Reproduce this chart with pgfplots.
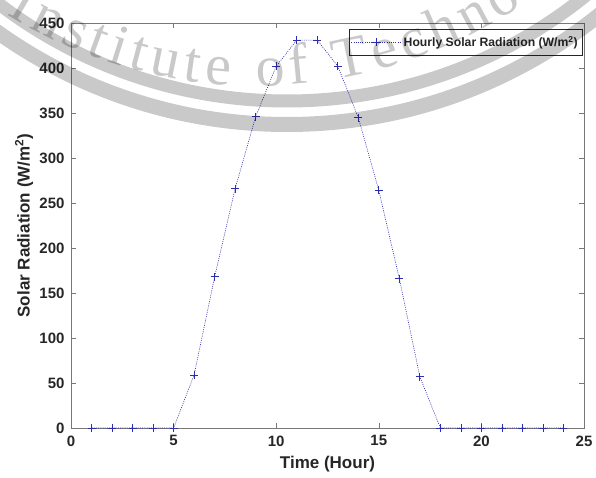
\documentclass[border=0pt]{standalone}
\usepackage{fontspec}
\setmainfont{Liberation Sans}
\newfontfamily\wmserif{Liberation Serif}
\usepackage{pgfplots}
\pgfplotsset{compat=1.18}
\usetikzlibrary{decorations.text}

\definecolor{axgray}{RGB}{120,120,120}
\definecolor{labelgray}{RGB}{38,38,38}
\definecolor{seriesblue}{RGB}{45,45,175}

\begin{document}
\begin{tikzpicture}
\useasboundingbox (0pt,0pt) rectangle (596pt,477pt);
\begin{axis}[
  at={(71pt,49pt)}, anchor=south west,
  scale only axis, width=513pt, height=405pt,
  xmin=0, xmax=25, ymin=0, ymax=450,
  xtick={0,5,...,25}, ytick={0,50,...,450},
  tick align=inside,
  major tick length=5pt,
  axis line style={axgray, line width=0.6pt},
  tick style={axgray, line width=0.6pt},
  /pgf/number format/assume math mode=true,
  ticklabel style={font=\bfseries\fontsize{15}{17}\selectfont, text=labelgray},
  xticklabel style={yshift=-4pt},
  yticklabel style={xshift=-3pt},
  xlabel={Time (Hour)},
  ylabel={Solar Radiation (W/m\textsuperscript{2})},
  label style={font=\bfseries\fontsize{17}{19}\selectfont, text=labelgray},
  x label style={at={([yshift=-36pt]axis description cs:0.5,0)}, anchor=center},
  y label style={at={([xshift=-47pt]axis description cs:0,0.5)}, anchor=center},
  legend style={at={(1,1)}, anchor=north east, xshift=-2pt, yshift=-6pt,
    draw=labelgray, line width=0.5pt, fill=white,
    font=\bfseries\fontsize{12.2}{14}\selectfont, text=labelgray,
    inner xsep=2pt, inner ysep=5pt},
  legend cell align=left,
  legend image code/.code={\draw[mark repeat=2,mark phase=2,#1]
    plot coordinates {(0pt,0pt) (25pt,0pt) (50pt,0pt)};},
]
\addplot[seriesblue, line width=0.6pt, dash pattern=on 1pt off 1.2pt,
  mark=+, mark size=4pt, mark options={solid, line width=0.7pt}]
  coordinates {
  (1,0) (2,0) (3,0) (4,0) (5,0)
  (6,59) (7,168) (8,266) (9,346) (10,402) (11,431) (12,431)
  (13,402) (14,345) (15,264) (16,166) (17,57)
  (18,0) (19,0) (20,0) (21,0) (22,0) (23,0) (24,0)
  };
\addlegendentry{Hourly Solar Radiation (W/m\textsuperscript{2})}
\end{axis}

% seal watermark: two rings and the lettering along the lower arc
\begin{scope}[x=1pt,y=1pt]
\clip (0,0) rectangle (596,477);
\begin{scope}[opacity=0.21]
\draw[line width=13pt] (287,852) circle[radius=476];
\draw[line width=15pt] (287,852) circle[radius=499.5];
\path[decorate, decoration={text along path,
    text={|\wmserif\fontsize{58}{66}\selectfont|Institute of Technology},
    text align=fit to path}]
  (257,865) ++(238.1:474) arc[start angle=238.1, end angle=319.4, radius=474];
\end{scope}
\end{scope}
\end{tikzpicture}
\end{document}
